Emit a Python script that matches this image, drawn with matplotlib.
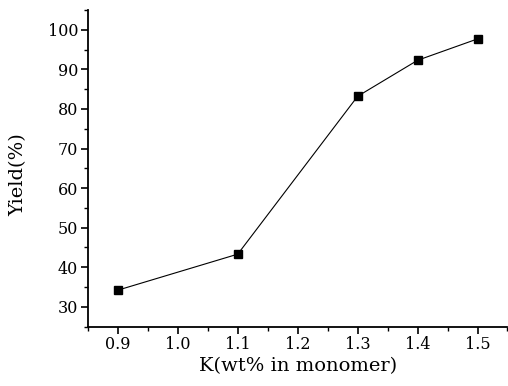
import matplotlib
matplotlib.use("Agg")
import matplotlib.pyplot as plt
from matplotlib.ticker import MultipleLocator

# potassium content (wt% in monomer) vs yield
k_content = [0.9, 1.1, 1.3, 1.4, 1.5]
yield_pct = [34.2, 43.3, 83.2, 92.3, 97.7]

plt.rcParams['font.family'] = 'DejaVu Serif'

fig = plt.figure(figsize=(5.08, 3.86), dpi=100)
ax = fig.add_axes([0.173, 0.154, 0.826, 0.82])

ax.plot(k_content, yield_pct, color='black', linewidth=0.8,
        marker='s', markersize=5.5)

ax.set_xlim(0.85, 1.55)
ax.set_ylim(25, 105)
ax.xaxis.set_major_locator(MultipleLocator(0.1))
ax.xaxis.set_minor_locator(MultipleLocator(0.05))
ax.yaxis.set_major_locator(MultipleLocator(10))
ax.yaxis.set_minor_locator(MultipleLocator(5))
ax.xaxis.set_major_formatter(plt.FuncFormatter(lambda v, p: "%.1f" % v))

ax.spines['top'].set_visible(False)
ax.spines['right'].set_visible(False)
ax.spines['left'].set_linewidth(1.3)
ax.spines['bottom'].set_linewidth(1.3)
ax.tick_params(which='major', direction='out', length=5, width=1.2, labelsize=11.5, pad=2)
ax.tick_params(which='minor', direction='out', length=3, width=1.0)

ax.set_xlabel("K(wt% in monomer)", fontsize=14, labelpad=3)
ax.set_ylabel("Yield(%)", fontsize=14)
ax.yaxis.set_label_coords(-0.145, 0.479)

fig.savefig("out.png", dpi=100)
